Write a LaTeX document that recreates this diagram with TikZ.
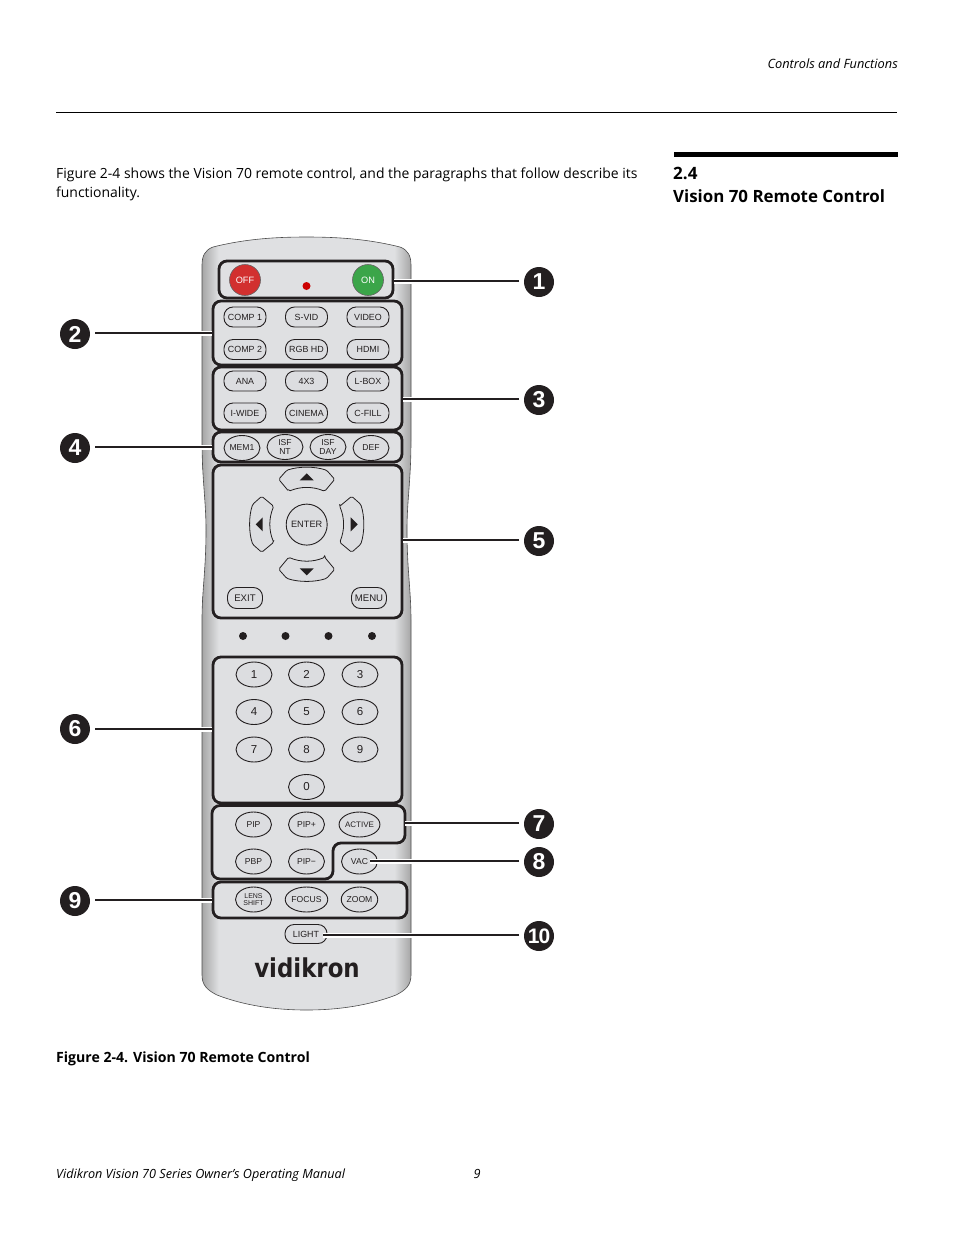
\documentclass[tikz,border=0pt]{standalone}
\usepackage{fontspec}
\setmainfont{Open Sans}
\newfontfamily\btnfont{Liberation Sans}
\newfontfamily\logofont{DejaVu Sans}
\usetikzlibrary{shapes.geometric}
\definecolor{plate}{HTML}{DFE0E2}
\definecolor{btn}{HTML}{DCDDE0}
\definecolor{ink}{HTML}{231F20}
\pgfdeclarehorizontalshading{bodyshade}{100bp}{color(0bp)=(black!35); color(25bp)=(black!35); color(29bp)=(plate); color(71bp)=(plate); color(75bp)=(black!35); color(100bp)=(black!35)}
\tikzset{
  grp/.style={draw=ink,line width=2.8pt,rounded corners=8pt,fill=plate,inner sep=0pt},
  pill/.style={draw=ink,line width=0.9pt,fill=btn,rounded corners=9pt,minimum width=42pt,minimum height=20pt,inner sep=0pt,text=ink,font=\btnfont\fontsize{8.9}{9}\selectfont,align=center},
  oval/.style={ellipse,draw=ink,line width=0.9pt,fill=btn,minimum width=36pt,minimum height=25pt,inner sep=0pt,text=ink,font=\btnfont\fontsize{8.6}{8.4}\selectfont,align=center},
  callout/.style={circle,fill=ink,minimum size=30pt,inner sep=0pt,outer sep=5pt,text=white,font=\btnfont\bfseries\fontsize{23}{23}\selectfont},
  leader/.style={line width=2.4pt,draw=ink,preaction={draw=white,line width=5pt}},
  pagetxt/.style={anchor=base west,inner sep=0pt,text=black,font=\fontsize{13.95}{14}\selectfont},
}
\begin{document}
\begin{tikzpicture}[x=1pt,y=-1pt]
 \useasboundingbox (0,0) rectangle (954,1235);
 % page
 \node[pagetxt,anchor=base east,font=\itshape\fontsize{12.8}{12.8}\selectfont] (head) at (898,68) {Controls and Functions};
 \draw[line width=1pt] (56,112) -- (897,112);
 \fill (674,152) rectangle (898,157);
 \node[pagetxt,font=\bfseries\fontsize{17}{17}\selectfont] (secnum) at (673,179) {2.4};
 \node[pagetxt,font=\bfseries\fontsize{16.9}{16.9}\selectfont] (sectitle) at (673,202) {Vision 70 Remote Control};
 \node[pagetxt] (para1) at (56,178) {Figure 2-4 shows the Vision 70 remote control, and the paragraphs that follow describe its};
 \node[pagetxt] (para2) at (56,197) {functionality.};
 \node[pagetxt,font=\bfseries\fontsize{14.1}{14.1}\selectfont] (caption) at (56,1062) {Figure 2-4. Vision 70 Remote Control};
 \node[pagetxt,font=\itshape\fontsize{12.65}{12.65}\selectfont] (foot) at (56,1178) {Vidikron Vision 70 Series Owner’s Operating Manual};
 \node[pagetxt,font=\itshape\fontsize{12.65}{12.65}\selectfont] (pageno) at (473.5,1178) {9};
 % remote body
 \draw[draw=black!70,line width=0.6pt,shading=bodyshade]
   (213,247) .. controls (245,239) and (275,237) .. (306.5,237)
   .. controls (338,237) and (368,239) .. (400,247)
   .. controls (408,250) and (411,256) .. (411,265)
   -- (411,440) .. controls (411,480) and (407,500) .. (407,530)
   .. controls (407,570) and (411,590) .. (411,620)
   -- (411,975) .. controls (411,985) and (406,990) .. (396,995)
   .. controls (370,1005) and (340,1010) .. (306.5,1010)
   .. controls (273,1010) and (243,1005) .. (217,995)
   .. controls (207,990) and (202,985) .. (202,975)
   -- (202,620) .. controls (202,590) and (206,570) .. (206,530)
   .. controls (206,500) and (202,480) .. (202,440)
   -- (202,265) .. controls (202,256) and (205,250) .. (213,247) -- cycle;
 % groups
 \node[grp,minimum width=174pt,minimum height=37pt] (gA) at (306,279.5) {};
 \node[grp,minimum width=189pt,minimum height=64pt] (gB) at (307.5,333) {};
 \node[grp,minimum width=189pt,minimum height=63pt] (gC) at (307.5,398.5) {};
 \node[grp,minimum width=189pt,minimum height=30pt] (gD) at (307.5,447) {};
 \node[grp,minimum width=189pt,minimum height=153pt] (gE) at (307.5,541.5) {};
 \node[grp,minimum width=189pt,minimum height=146pt] (gF) at (307.5,730) {};
 \draw[grp] (212,805.5) -- (405,805.5) -- (405,843) -- (333,843) -- (333,879) -- (212,879) -- cycle;
 \coordinate (gG) at (405,823);
 \node[grp,minimum width=194pt,minimum height=36pt] (gI) at (310,900) {};
 % power
 \node[circle,draw=ink!70,line width=0.6pt,fill={rgb,255:red,210;green,48;blue,47},minimum size=31pt,inner sep=0pt,text=white,font=\btnfont\fontsize{9.2}{9.2}\selectfont] (off) at (245,280) {OFF};
 \node[circle,draw=ink!70,line width=0.6pt,fill={rgb,255:red,59;green,165;blue,73},minimum size=31pt,inner sep=0pt,text=white,font=\btnfont\fontsize{9.2}{9.2}\selectfont] (on) at (368,280) {ON};
 \fill[red!80!black] (306.5,286) circle (4);
 % source buttons
 \foreach \xx/\yy/\txt/\nm in {245/317/COMP 1/b1,306.5/317/S-VID/b2,368/317/VIDEO/b3,
   245/349.5/COMP 2/b4,306.5/349.5/RGB HD/b5,368/349.5/HDMI/b6,
   245/381/ANA/b7,306.5/381/4X3/b8,368/381/L-BOX/b9,
   245/413/I-WIDE/b10,306.5/413/CINEMA/b11,368/413/C-FILL/b12}
   \node[pill] (\nm) at (\xx,\yy) {\txt};
 % memory buttons
 \node[oval] (mem) at (242,448) {MEM1};
 \node[oval] (nt) at (285,447) {ISF\\NT};
 \node[oval] (day) at (328,447) {ISF\\DAY};
 \node[oval] (def) at (371,448) {DEF};
 % navigation
 \foreach \ang in {0,90,180,270}{
   \begin{scope}[shift={(306.7,524.3)},rotate=\ang]
     \draw[draw=ink,line width=0.8pt,fill=btn,rounded corners=1.5pt]
       (-18,-33) -- (-28,-45) -- (-20,-54) .. controls (-8,-58) and (8,-58) .. (20,-54)
       -- (28,-45) -- (18,-33) .. controls (6,-38) and (-6,-38) .. (-18,-33) -- cycle;
     \fill[ink] (0,-51) -- (7,-44) -- (-7,-44) -- cycle;
   \end{scope}
 }
 \node[circle,draw=ink,line width=0.9pt,fill=btn,minimum size=41pt,inner sep=0pt,text=ink,font=\btnfont\fontsize{9.2}{9}\selectfont] (enter) at (306.7,524.6) {ENTER};
 \node[pill,minimum width=35pt,minimum height=21pt,font=\btnfont\fontsize{9.6}{9}\selectfont] (exit) at (245,598) {EXIT};
 \node[pill,minimum width=35pt,minimum height=21pt,font=\btnfont\fontsize{9.6}{9}\selectfont] (menu) at (369,598) {MENU};
 \foreach \xx in {243,285.5,328.5,372}
   \fill[ink] (\xx,636) circle (4);
 % keypad
 \foreach \xx/\yy/\txt/\nm in {254/674.5/1/k1,306.5/674.5/2/k2,360/674.5/3/k3,254/712/4/k4,306.5/712/5/k5,360/712/6/k6,
   254/749.5/7/k7,306.5/749.5/8/k8,360/749.5/9/k9,306.5/787/0/k0}
   \node[oval,font=\btnfont\fontsize{11.5}{11}\selectfont] (\nm) at (\xx,\yy) {\txt};
 % pip and lens
 \foreach \xx/\yy/\txt/\nm in {253.5/824.5/PIP/p1,306.5/824.5/PIP+/p2,253.5/861.5/PBP/p4,306.5/861.5/PIP−/p5,359.5/861.5/VAC/vac,
   306.5/899.5/FOCUS/l2,359.5/899.5/ZOOM/l3}
   \node[oval] (\nm) at (\xx,\yy) {\txt};
 \node[oval,font=\btnfont\fontsize{8}{8}\selectfont] (p3) at (359.5,824.5) {ACTIVE};
 \node[oval,font=\btnfont\fontsize{7}{7.4}\selectfont] (l1) at (253.5,899.5) {LENS\\SHIFT};
 \node[pill,minimum height=19pt] (light) at (306,934) {LIGHT};
 \coordinate (vacend) at (370,861);
 \coordinate (lightend) at (323,935);
 % logo
 \node[anchor=base,inner sep=0pt,xscale=0.88,text=ink,font=\logofont\bfseries\fontsize{26}{26}\selectfont] (logo) at (307,977) {vidikron};
 % callouts
 \node[callout] (c1) at (539,282) {1};
 \node[callout] (c2) at (75,334) {2};
 \node[callout] (c3) at (539,400) {3};
 \node[callout] (c4) at (75,448) {4};
 \node[callout] (c5) at (539,541) {5};
 \node[callout] (c6) at (75,729) {6};
 \node[callout] (c7) at (539,824) {7};
 \node[callout] (c8) at (539,862) {8};
 \node[callout] (c9) at (75,901) {9};
 \node[callout,font=\btnfont\bfseries\fontsize{21}{21}\selectfont] (c10) at (539,936) {1\kern-1pt 0};
 \foreach \cc/\gg in {c1/gA.east,c3/gC.east,c5/gE.east,c7/gG,c8/vacend,c10/lightend}
   \draw[leader] ([yshift=1pt]\cc.west) -- ([yshift=1pt]\cc.west -| \gg);
 \draw[leader] ([yshift=1pt]c2.east) -- ([yshift=1pt]c2.east -| gB.west);
 \draw[leader] ([yshift=1pt]c4.east) -- ([yshift=1pt]c4.east -| gD.west);
 \draw[leader] (c6.east) -- (c6.east -| gF.west);
 \draw[leader] ([yshift=1pt]c9.east) -- ([yshift=1pt]c9.east -| gI.west);
\end{tikzpicture}
\end{document}
